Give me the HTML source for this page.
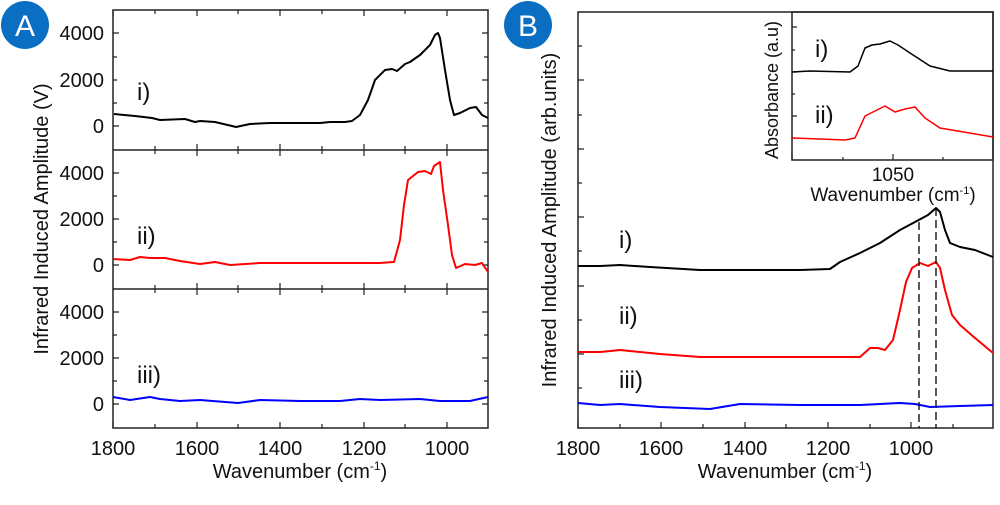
<!DOCTYPE html>
<html><head><meta charset="utf-8"><style>
body{margin:0;background:#fff}
svg text{font-family:"Liberation Sans",sans-serif;fill:#111}
</style></head><body>
<svg width="1000" height="500" viewBox="0 0 1000 500" xmlns="http://www.w3.org/2000/svg">
<g fill="none" stroke="#222" stroke-width="1.5">
<rect x="113" y="10" width="375" height="418"/>
<line x1="113" y1="150" x2="488" y2="150"/>
<line x1="113" y1="289" x2="488" y2="289"/>
<rect x="578" y="12" width="415" height="416"/>
<rect x="792" y="12" width="201" height="148"/>
</g>
<g stroke="#222" stroke-width="1.2">
<path d="M113 428v-6M155 428v-4M197 428v-6M238 428v-4M280 428v-6M322 428v-4M364 428v-6M405 428v-4M447 428v-6
M113 10v6M155 10v4M197 10v6M238 10v4M280 10v6M322 10v4M364 10v6M405 10v4M447 10v6
M155 150v-4M197 150v-6M238 150v-4M280 150v-6M322 150v-4M364 150v-6M405 150v-4M447 150v-6
M155 289v-4M197 289v-6M238 289v-4M280 289v-6M322 289v-4M364 289v-6M405 289v-4M447 289v-6
M155 150v4M197 150v6M238 150v4M280 150v6M322 150v4M364 150v6M405 150v4M447 150v6
M155 289v4M197 289v6M238 289v4M280 289v6M322 289v4M364 289v6M405 289v4M447 289v6"/>
<path d="M113 33h6M113 80h4M113 126h6M113 103h4M113 57h4M113 173h6M113 196h4M113 219h6M113 242h4M113 265h6M113 312h6M113 335h4M113 358h6M113 381h4M113 404h6
M488 33h-6M488 57h-4M488 80h-6M488 103h-4M488 126h-6M488 173h-6M488 196h-4M488 219h-6M488 242h-4M488 265h-6M488 312h-6M488 335h-4M488 358h-6M488 381h-4M488 404h-6"/>
<path d="M578 428v-6M620 428v-4M661 428v-6M703 428v-4M745 428v-6M786 428v-4M828 428v-6M870 428v-4M911 428v-6M953 428v-4
M578 80h6M578 46h4M578 149h6M578 115h4M578 217h6M578 183h4M578 286h6M578 251h4M578 354h6M578 320h4M578 388h4
M792 160v-6M843 160v-3M893 160v-6M943 160v-3M792 27h5M792 50h3M792 72h5M792 94h3M792 116h5M792 138h3"/>
</g>
<g font-size="20" text-anchor="end">
<text x="104" y="40">4000</text><text x="104" y="87">2000</text><text x="104" y="133">0</text>
<text x="104" y="180">4000</text><text x="104" y="226">2000</text><text x="104" y="272">0</text>
<text x="104" y="319">4000</text><text x="104" y="365">2000</text><text x="104" y="411">0</text>
</g>
<g font-size="20" text-anchor="middle">
<text x="113" y="455">1800</text><text x="197" y="455">1600</text><text x="280" y="455">1400</text><text x="364" y="455">1200</text><text x="447" y="455">1000</text>
<text x="300" y="478">Wavenumber (cm<tspan font-size="12" dy="-8">-1</tspan><tspan dy="8">)</tspan></text>
<text x="578" y="455">1800</text><text x="661" y="455">1600</text><text x="745" y="455">1400</text><text x="828" y="455">1200</text><text x="911" y="455">1000</text>
<text x="785" y="478">Wavenumber (cm<tspan font-size="12" dy="-8">-1</tspan><tspan dy="8">)</tspan></text>
<text x="893" y="181" font-size="19">1050</text>
<text x="893" y="201" font-size="19">Wavenumber (cm<tspan font-size="11" dy="-7">-1</tspan><tspan dy="7">)</tspan></text>
<text transform="translate(48 219) rotate(-90)">Infrared Induced Amplitude (V)</text>
<text transform="translate(556 220) rotate(-90)">Infrared Induced Amplitude (arb.units)</text>
<text transform="translate(778 90) rotate(-90)" font-size="18">Absorbance (a.u)</text>
</g>
<g font-size="24">
<text x="137" y="100">i)</text><text x="137" y="244">ii)</text><text x="137" y="383">iii)</text>
<text x="619" y="248">i)</text><text x="619" y="324">ii)</text><text x="619" y="388">iii)</text>
<text x="815" y="57">i)</text><text x="815" y="123">ii)</text>
</g>
<g fill="none" stroke-width="2" stroke-linejoin="round">
<polyline stroke="#000" points="114,114 135,116 152,118 160,120 185,119 195,122 200,121 215,122 232,126 236,127 250,124 270,123 300,123 320,123 330,122 345,122 352,121 360,115 368,100 375,80 385,70 392,69 397,71 405,64 410,62 420,55 430,45 435,35 438,33 440,38 445,70 450,100 454,115 460,113 470,108 476,107 482,115 488,118"/>
<polyline stroke="#f00" points="113,259 130,260 140,257 150,258 165,258 180,261 200,264 215,262 230,265 260,263 300,263 330,263 350,263 380,263 394,262 400,240 404,205 408,180 413,176 418,172 425,171 431,174 434,166 440,162 443,190 448,225 452,255 456,268 465,264 475,265 482,263 488,272"/>
<polyline stroke="#00f" points="113,397 130,400 150,397 160,399 180,401 200,400 238,403 260,400 300,401 340,401 360,399 380,400 420,399 440,401 470,401 488,397"/>
<polyline stroke="#000" points="578,266 600,266 620,265 650,267 700,270 740,270 800,270 830,269 840,262 860,253 880,243 900,230 915,222 928,215 936,208 940,212 945,230 950,243 960,247 975,250 993,257"/>
<polyline stroke="#f00" points="578,352 600,352 620,350 660,354 700,357 800,357 860,357 870,348 878,348 885,350 893,340 900,310 906,282 912,268 920,263 928,266 936,262 940,268 945,290 952,315 960,325 975,338 993,353"/>
<polyline stroke="#00f" points="578,403 600,405 620,404 660,407 710,409 740,404 800,405 860,405 900,403 915,404 930,407 960,406 993,405"/>
<polyline stroke="#000" stroke-width="1.5" points="792,72 810,71 850,72 858,66 865,48 872,45 880,44 890,41 898,45 910,53 930,66 950,71 993,71"/>
<polyline stroke="#f00" stroke-width="1.5" points="792,138 820,139 845,140 855,138 865,116 885,106 895,112 905,109 915,107 925,118 940,128 993,137"/>
</g>
<g stroke="#000" stroke-width="1.3" stroke-dasharray="8,4">
<line x1="919" y1="222" x2="919" y2="428"/><line x1="936" y1="208" x2="936" y2="428"/>
</g>
<circle cx="25" cy="25" r="24" fill="#0a6fc2"/>
<text x="25" y="36" font-size="30" text-anchor="middle" style="fill:#fff">A</text>
<circle cx="528" cy="25" r="24" fill="#0a6fc2"/>
<text x="528" y="36" font-size="30" text-anchor="middle" style="fill:#fff">B</text>
</svg>
</body></html>
